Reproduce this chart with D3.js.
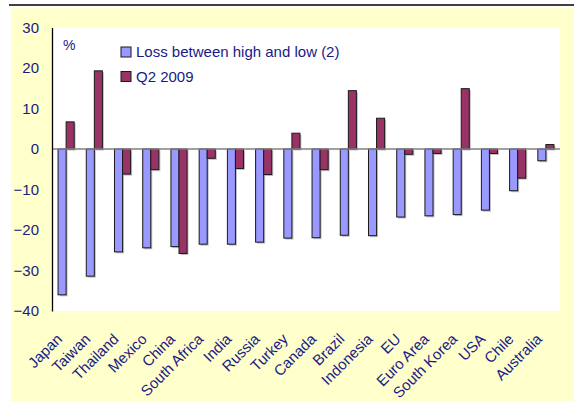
<!DOCTYPE html>
<html><head><meta charset="utf-8">
<script src="https://cdn.jsdelivr.net/npm/d3@7"></script>
<style>body{margin:0;background:#fff}svg{display:block}text{font-family:"Liberation Sans",Arial,sans-serif}</style>
</head><body>
<svg id="c" width="574" height="403"></svg>
<script>
const categories = ["Japan","Taiwan","Thailand","Mexico","China","South Africa","India","Russia","Turkey","Canada","Brazil","Indonesia","EU","Euro Area","South Korea","USA","Chile","Australia"];
const lossHighLow = [-36.0,-31.4,-25.4,-24.4,-24.1,-23.5,-23.5,-23.0,-22.0,-21.9,-21.3,-21.4,-16.8,-16.5,-16.2,-15.1,-10.3,-2.9];
const q22009 = [6.7,19.3,-6.2,-5.1,-25.8,-2.3,-4.8,-6.3,3.9,-5.1,14.4,7.6,-1.3,-1.1,14.9,-1.1,-7.2,1.1];
const seriesNames = ["Loss between high and low (2)","Q2 2009"];
const yTicks = [30,20,10,0,-10,-20,-30,-40];
const unitLabel = "%";

const colors = ["#9999FF","#993366"];
const txt = "#1a1a86";
const svg = d3.select("#c");

svg.append("line").attr("x1",9).attr("x2",574).attr("y1",5).attr("y2",5).attr("stroke","#000").attr("stroke-width",1.5);
svg.append("rect").attr("x",11).attr("y",8).attr("width",563).attr("height",393).attr("fill","#FFFFCC");

const L=52,R=560,T=27.5,B=311;
svg.append("rect").attr("x",L).attr("y",T).attr("width",R-L).attr("height",B-T).attr("fill","#fff");

const x = d3.scaleBand().domain(categories).range([L,R]).padding(0);
const y = d3.scaleLinear().domain([-40,30]).range([B,T]);
const bw = x.bandwidth()/3.5;

const data = categories.map((c,i)=>({c,v:[lossHighLow[i],q22009[i]]}));
const g = svg.append("g");
data.forEach(d=>{
  d.v.forEach((v,k)=>{
    const bx = x(d.c)+0.75*bw+k*bw;
    const y0 = y(Math.max(0,v)), h = Math.abs(y(v)-y(0));
    g.append("rect").attr("x",bx+1.5).attr("y",y0+1.5).attr("width",bw).attr("height",h).attr("fill","#8a8a8a").attr("opacity",0.55);
  });
});
data.forEach(d=>{
  d.v.forEach((v,k)=>{
    const bx = x(d.c)+0.75*bw+k*bw;
    const y0 = y(Math.max(0,v)), h = Math.abs(y(v)-y(0));
    g.append("rect").attr("x",bx).attr("y",y0).attr("width",bw).attr("height",h).attr("fill",colors[k]).attr("stroke","#1a1a1a").attr("stroke-width",1);
  });
});

svg.append("line").attr("x1",L).attr("x2",R).attr("y1",y(0)).attr("y2",y(0)).attr("stroke","#808080").attr("stroke-width",1.3);

const yAxis = d3.axisLeft(y).tickValues(yTicks).tickSize(0).tickPadding(13);
const ya = svg.append("g").attr("transform",`translate(${L},0)`).call(yAxis);
ya.select(".domain").attr("stroke","#000").attr("stroke-width",1.3);
ya.selectAll("text").attr("fill",txt).style("font-size","15px").style("font-family","'Liberation Sans',Arial,sans-serif");

svg.append("text").attr("x",63).attr("y",50).attr("fill",txt).style("font-size","14px").text(unitLabel);

seriesNames.forEach((n,i)=>{
  const ly = 47+i*24.5;
  svg.append("rect").attr("x",121).attr("y",ly).attr("width",10).attr("height",10).attr("fill",colors[i]).attr("stroke","#1a1a1a").attr("stroke-width",1);
  svg.append("text").attr("x",136).attr("y",ly+10).attr("fill",txt).style("font-size","15px").text(n);
});

categories.forEach(c=>{
  const cx = x(c)+x.bandwidth()/2;
  svg.append("text").attr("transform",`translate(${cx-3},${340}) rotate(-45)`).attr("text-anchor","end").attr("fill",txt).style("font-size","15px").text(c);
});
</script>
</body></html>
